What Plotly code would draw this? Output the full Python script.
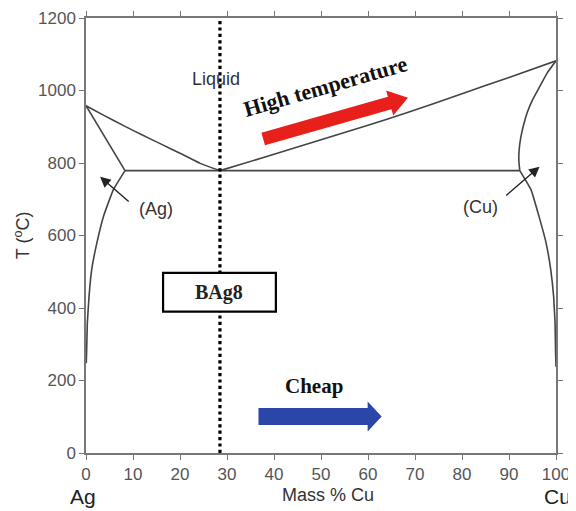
import numpy as np
import plotly.graph_objects as go

# ---- data ----
liq_ag_x = [0, 4, 8, 12, 16, 20, 24.3, 28.5]
liq_ag_t = [958, 930, 903, 877, 852, 827, 799, 779]
sol_ag_x = [0, 8.3]
sol_ag_t = [958, 779]
solv_ag_x = [8.3, 5.8, 3.7, 2.3, 1.2, 0.64, 0.28, 0.14, 0.05]
solv_ag_t = [779, 726, 652, 579, 505, 431, 358, 284, 248]
liq_cu_x = [28.5, 40, 50, 60, 68.4, 80, 90, 100]
liq_cu_t = [779, 824, 864, 904, 939, 991, 1036, 1082]
sol_cu_x = [100, 98.2, 96.5, 95.0, 93.9, 93.1, 92.5, 92.15, 92.1, 92.3]
sol_cu_t = [1082, 1050, 1010, 974, 940, 905, 870, 835, 805, 779]
solv_cu_x = [92.3, 94.7, 96.4, 97.9, 98.9, 99.5, 99.8, 99.9, 100]
solv_cu_t = [779, 726, 652, 579, 504, 431, 358, 284, 238]
eut_x = [8.3, 92.3]
eut_t = [779, 779]
bag8_x = 28.5

x_ticks = [0, 10, 20, 30, 40, 50, 60, 70, 80, 90, 100]
y_ticks = [0, 200, 400, 600, 800, 1000, 1200]

# annotation anchors (data units)
red_arrow = (37.7, 866, 68.5, 980)
blue_arrow = (36.7, 101, 62.9, 101)
box_bag8 = (16.4, 390, 40.4, 497)

# page is offset by the browser's 8px body margin
FW, FH = 568, 503
ML, MR, MT, MB = 78, 20, 10, 58
PW, PH = FW - ML - MR, FH - MT - MB
sx = PW / 100.0
sy = PH / 1200.0


def arrow_poly(x0, y0, x1, y1, shaft, head_w, head_len):
    p0 = np.array([x0 * sx, y0 * sy])
    p1 = np.array([x1 * sx, y1 * sy])
    d = p1 - p0
    u = d / np.hypot(*d)
    n = np.array([-u[1], u[0]])
    hb = p1 - u * head_len
    pts = [p0 + n * shaft / 2, hb + n * shaft / 2, hb + n * head_w / 2, p1,
           hb - n * head_w / 2, hb - n * shaft / 2, p0 - n * shaft / 2,
           p0 + n * shaft / 2]
    return [p[0] / sx for p in pts], [p[1] / sy for p in pts]


line_col = "#444444"
fig = go.Figure()
for xs, ts in [(liq_ag_x, liq_ag_t), (sol_ag_x, sol_ag_t), (solv_ag_x, solv_ag_t),
               (liq_cu_x, liq_cu_t), (sol_cu_x, sol_cu_t), (solv_cu_x, solv_cu_t),
               (eut_x, eut_t)]:
    fig.add_trace(go.Scatter(x=xs, y=ts, mode="lines",
                             line=dict(color=line_col, width=1.6, shape="spline", smoothing=0.3),
                             hoverinfo="skip", showlegend=False, cliponaxis=False))

fig.add_trace(go.Scatter(x=[bag8_x, bag8_x], y=[0, 1200], mode="lines",
                         line=dict(color="black", width=3.2, dash="dot"), showlegend=False))

rx, ry = arrow_poly(*red_arrow, shaft=13, head_w=26, head_len=19)
fig.add_trace(go.Scatter(x=rx, y=ry, mode="lines", fill="toself", fillcolor="#e8201c",
                         line=dict(width=0, color="#e8201c"), showlegend=False))
bx, by = arrow_poly(*blue_arrow, shaft=17, head_w=30, head_len=14)
fig.add_trace(go.Scatter(x=bx, y=by, mode="lines", fill="toself", fillcolor="#2a46a8",
                         line=dict(width=0, color="#2a46a8"), showlegend=False))

fig.add_shape(type="rect", x0=box_bag8[0], y0=box_bag8[1], x1=box_bag8[2], y1=box_bag8[3],
              line=dict(color="black", width=2.2), fillcolor="white", layer="above")

serif = "Liberation Serif"
sans = "Liberation Sans"
ann = [
    dict(x=28.4, y=443, text="<b>BAg8</b>", font=dict(family=serif, size=20, color="#222")),
    dict(x=27.6, y=1032, text="Liquid", font=dict(family=sans, size=18, color="#333")),
    dict(x=50.9, y=1010, text="<b>High temperature</b>", textangle=-16,
         font=dict(family=serif, size=22, color="#111")),
    dict(x=48.5, y=184, text="<b>Cheap</b>", font=dict(family=serif, size=21, color="#111")),
    dict(x=14.8, y=673, text="(Ag)", font=dict(family=sans, size=18, color="#333")),
    dict(x=84.0, y=678, text="(Cu)", font=dict(family=sans, size=18, color="#333")),
]
for a in ann:
    fig.add_annotation(showarrow=False, xref="x", yref="y", **a)

for hx, hy, tx, ty in [(3.0, 762, 9.4, 690), (96.5, 790, 89.1, 707)]:
    fig.add_annotation(x=hx, y=hy, ax=tx, ay=ty, axref="x", ayref="y", xref="x", yref="y",
                       text="", showarrow=True, arrowhead=2, arrowsize=1.5, arrowwidth=1.4,
                       arrowcolor="#222")

# axis titles and end labels
fig.add_annotation(x=51.5, y=0, xref="x", yref="y", yshift=-42, text="Mass % Cu", showarrow=False,
                   font=dict(family=sans, size=18, color="#333"))
fig.add_annotation(x=0, y=0, xref="x", yref="y", xshift=-3, yshift=-43, text="Ag", showarrow=False,
                   xanchor="center", font=dict(family=sans, size=21, color="#222"))
fig.add_annotation(x=100, y=0, xref="x", yref="y", xshift=1, yshift=-43, text="Cu", showarrow=False,
                   xanchor="center", font=dict(family=sans, size=21, color="#222"))
fig.add_annotation(x=0, y=601, xref="paper", yref="y", xshift=-64, textangle=-90,
                   xanchor="center", yanchor="middle",
                   text="T (<sup>o</sup>C)", showarrow=False,
                   font=dict(family=sans, size=18, color="#333"))

axis_common = dict(showline=True, linecolor="#777", linewidth=1.5, mirror="ticks",
                   ticks="outside", ticklen=5, tickwidth=1.3, tickcolor="#777",
                   showgrid=False, zeroline=False, automargin=False,
                   tickfont=dict(family=sans, size=17, color="#555"))
fig.update_xaxes(range=[0, 100], tickvals=x_ticks, **axis_common)
fig.update_yaxes(range=[0, 1200], tickvals=y_ticks, **axis_common)

fig.update_layout(width=FW, height=FH, margin=dict(l=ML, r=MR, t=MT, b=MB, autoexpand=False),
                  plot_bgcolor="white", paper_bgcolor="white", showlegend=False)
fig.write_html("out.html")
